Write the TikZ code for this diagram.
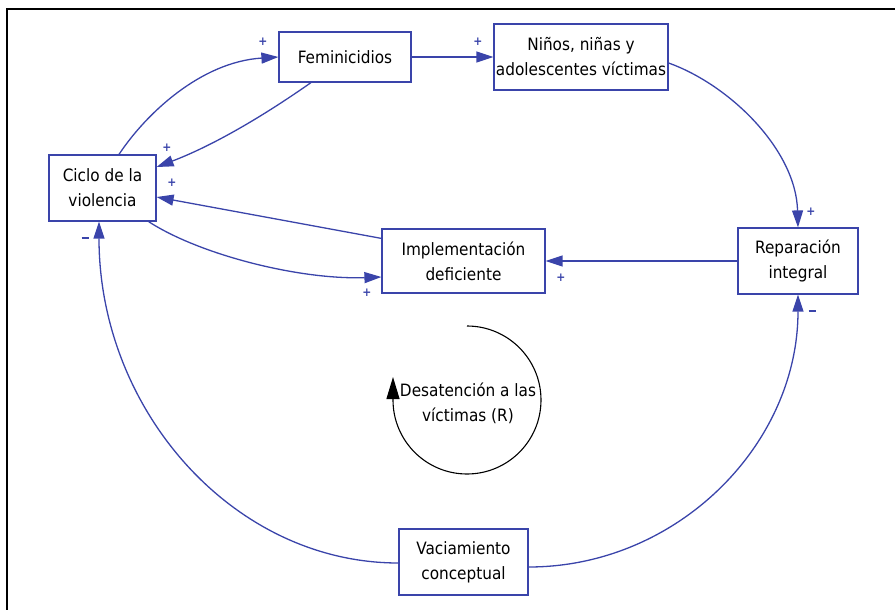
\documentclass[tikz,border=0pt]{standalone}
\usepackage{fontspec}
\setmainfont{DejaVu Sans Condensed}
\usetikzlibrary{arrows.meta}
\definecolor{cldblue}{RGB}{58,68,170}
\tikzset{
  varbox/.style={draw=cldblue, line width=1.2pt, fill=white, inner sep=0pt, align=center,
    font=\fontsize{17}{25}\selectfont, text=black},
  link/.style={draw=cldblue, line width=1.3pt, -{Triangle[length=17pt,width=11pt]}},
  sign/.style={text=cldblue, font=\fontsize{12}{12}\selectfont\bfseries, inner sep=0pt},
  loopar/.style={draw=black, line width=1.1pt, -{Triangle[length=22pt,width=13pt]}},
  frameline/.style={draw=black, line width=2pt}
}
\begin{document}
\begin{tikzpicture}[x=1pt,y=1pt]
\useasboundingbox (0,0) rectangle (895,-610);
% frame (top and left edges visible)
\draw[frameline] (895,-9.5) -- (6.5,-9.5) -- (6.5,-610);

% nodes
\node[varbox, minimum width=132pt, minimum height=50pt] (fem) at (345,-57) {Feminicidios};
\node[varbox, minimum width=174pt, minimum height=66pt] (nin) at (581,-57) {Niños, niñas y\\adolescentes víctimas};
\node[varbox, minimum width=107pt, minimum height=66pt] (cic) at (102.5,-188) {Ciclo de la\\violencia};
\node[varbox, minimum width=163pt, minimum height=64pt] (imp) at (463.5,-261) {Implementación\\deficiente};
\node[varbox, minimum width=120pt, minimum height=66pt] (rep) at (798,-261) {Reparación\\integral};
\node[varbox, minimum width=129pt, minimum height=66pt] (vac) at (463.5,-562) {Vaciamiento\\conceptual};

% connectors
\draw[link] ([xshift=16.5pt]cic.north) .. controls (145,-115) and (200,-62) .. (fem.west);
\draw[link] ([xshift=-34pt]fem.south) .. controls (262,-117) and (212,-146) .. ([yshift=21pt]cic.east);
\draw[link] ([yshift=-10pt]imp.north west) -- ([yshift=-9pt]cic.east);
\draw[link] ([xshift=-8pt]cic.south east) .. controls (200,-255) and (300,-280) .. ([yshift=-16pt]imp.west);
\draw[link] (fem.east) -- (nin.west);
\draw[link] ([yshift=-6pt]nin.east) .. controls (730,-85) and (796,-150) .. (rep.north);
\draw[link] (rep.west) -- (imp.east);
\draw[link] ([yshift=-1pt]vac.west) .. controls (233,-563) and (99,-410) .. ([xshift=-3.5pt]cic.south);
\draw[link] ([yshift=-5pt]vac.east) .. controls (677,-567) and (798,-445) .. (rep.south);

% polarity signs
\node[sign] (s1) at (263,-42) {+};
\node[sign] (s2) at (167,-148) {+};
\node[sign] (s3) at (172,-183) {+};
\node[sign] (s4) at (367,-293) {+};
\node[sign] (s5) at (478,-42) {+};
\node[sign] (s6) at (811,-212) {+};
\node[sign] (s7) at (561,-278) {+};
\node[sign] (s8) at (85,-238) {\rule{7pt}{1.2pt}};
\node[sign] (s9) at (812,-311) {\rule{7pt}{1.2pt}};

% loop indicator
\coordinate (lc) at (467,-400);
\draw[loopar] (467,-326) arc[start angle=90, end angle=-180, radius=74pt] -- (393,-377);
\node[font=\fontsize{17}{25}\selectfont, align=center, inner sep=0pt] (loopl) at (468,-403) {Desatención a las\\víctimas (R)};
\end{tikzpicture}
\end{document}
